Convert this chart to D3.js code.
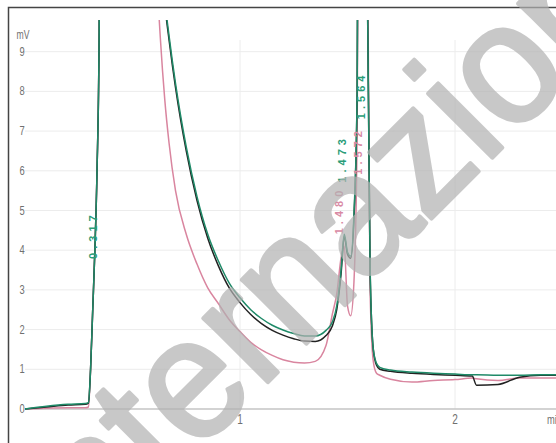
<!DOCTYPE html>
<html>
<head>
<meta charset="utf-8">
<script src="https://cdn.jsdelivr.net/npm/d3@7"></script>
<style>
  body { margin: 0; background: #fff; }
  svg { display: block; }
</style>
</head>
<body>
<div id="chart"></div>
<script>
// 1 - Données (temps en minutes, signal en mV)
const temps = [0, 0.1, 0.2, 0.28, 0.295, 0.305, 0.315, 0.325, 0.335, 0.345, 0.36, 0.4, 0.5, 0.6,
  0.63, 0.65, 0.67, 0.7, 0.75, 0.8, 0.85, 0.9, 0.95, 1.0, 1.05, 1.1, 1.15, 1.2, 1.25, 1.3, 1.35,
  1.4, 1.43, 1.45, 1.47, 1.485, 1.5, 1.515, 1.53, 1.545, 1.56, 1.575, 1.59, 1.605, 1.62, 1.635,
  1.65, 1.7, 1.8, 1.9, 2.0, 2.08, 2.1, 2.2, 2.3, 2.4, 2.5];

const signalNoir = [0, 0.05, 0.1, 0.12, 0.15, 1.0, 2.5, 4.0, 6.0, 9.5, 30, 60, 45, 15,
  11.5, 10.2, 9.3, 8.1, 6.5, 5.25, 4.3, 3.6, 3.05, 2.68, 2.38, 2.15, 1.98, 1.86, 1.77, 1.71, 1.7,
  1.85, 2.1, 2.5, 3.4, 4.35, 3.9, 3.8, 4.8, 8, 30, 35, 12, 3.5, 1.5, 1.1,
  1.0, 0.95, 0.9, 0.87, 0.85, 0.83, 0.6, 0.62, 0.8, 0.85, 0.85];

const signalVert = [0, 0.07, 0.12, 0.14, 0.16, 1.0, 2.5, 4.0, 6.0, 9.5, 30, 60, 45, 15,
  11.6, 10.3, 9.4, 8.2, 6.6, 5.35, 4.4, 3.72, 3.17, 2.8, 2.5, 2.28, 2.11, 1.99, 1.9, 1.84, 1.84,
  1.98, 2.2, 2.6, 3.5, 4.4, 3.95, 3.85, 4.9, 8, 30, 35, 12, 3.6, 1.5, 1.15,
  1.05, 0.98, 0.93, 0.9, 0.88, 0.86, 0.86, 0.85, 0.85, 0.86, 0.86];

const signalRose = [0, 0.02, 0.03, 0.03, 0.05, 1.0, 2.5, 4.0, 6.0, 9.5, 30, 60, 40, 12.5,
  9.3, 7.8, 6.7, 5.5, 4.4, 3.65, 3.05, 2.65, 2.25, 1.95, 1.68, 1.49, 1.35, 1.24, 1.18, 1.16, 1.2,
  1.6, 2.4, 2.9, 3.8, 4.1, 2.6, 2.35, 3.2, 7, 25, 40, 14, 3.0, 1.2, 0.9,
  0.85, 0.75, 0.68, 0.72, 0.74, 0.78, 0.76, 0.72, 0.78, 0.78, 0.78];

const graduationsY = [0, 1, 2, 3, 4, 5, 6, 7, 8, 9];
const graduationsX = [1, 2];

// Étiquettes des pics : temps de rétention, texte, couleur, hauteur de l'étiquette (mV)
const picsTemps = [0.317, 1.473, 1.462, 1.564, 1.55];
const picsTextes = ["0.317", "1.473", "1.480", "1.564", "1.572"];
const picsCouleurs = ["#2a9d78", "#2a9d78", "#d98aa4", "#2a9d78", "#d98aa4"];
const picsHauteurs = [4.38, 6.3, 5.0, 7.9, 6.5];

// 2 - Dimensions et échelles
const largeur = 556, hauteur = 443;

const x = d3.scaleLinear().domain([0, 2.5]).range([25, 562.5]);
const y = d3.scaleLinear().domain([0, 9]).range([409, 51.7]);

const svg = d3.select("#chart")
  .append("svg")
  .attr("width", largeur)
  .attr("height", hauteur)
  .style("font-family", "'Liberation Sans', Arial, sans-serif");

svg.append("clipPath").attr("id", "zone")
  .append("rect")
  .attr("x", 25).attr("y", 20)
  .attr("width", largeur - 25).attr("height", 400);

// Cadre
svg.append("path")
  .attr("d", `M8.5,${hauteur} V7.5 H${largeur}`)
  .attr("fill", "none")
  .attr("stroke", "#444")
  .attr("stroke-width", 1.5);

// 3 - Grille
svg.append("g")
  .selectAll("line")
  .data(graduationsY.slice(1))
  .join("line")
  .attr("x1", 25).attr("x2", largeur)
  .attr("y1", d => y(d)).attr("y2", d => y(d))
  .attr("stroke", "#ececec");

svg.append("g")
  .selectAll("line")
  .data(graduationsX)
  .join("line")
  .attr("x1", d => x(d)).attr("x2", d => x(d))
  .attr("y1", 40).attr("y2", y(0))
  .attr("stroke", "#ececec");

// Axe des temps
svg.append("line")
  .attr("x1", 25).attr("x2", largeur)
  .attr("y1", y(0)).attr("y2", y(0))
  .attr("stroke", "#c4c4c4")
  .attr("stroke-width", 1.5);

// Étiquettes axe Y (police étroite)
svg.append("g")
  .selectAll("text")
  .data(graduationsY)
  .join("text")
  .attr("transform", d => `translate(22,${y(d) + 4}) scale(0.72,1)`)
  .attr("text-anchor", "middle")
  .attr("font-size", 13)
  .attr("fill", "#707070")
  .text(d => d);

svg.append("text")
  .attr("transform", "translate(23,39) scale(0.72,1)")
  .attr("text-anchor", "middle")
  .attr("font-size", 12)
  .attr("fill", "#707070")
  .text("mV");

// Étiquettes axe X
svg.append("g")
  .selectAll("text")
  .data(graduationsX)
  .join("text")
  .attr("transform", d => `translate(${x(d)},${y(0) + 15}) scale(0.72,1)`)
  .attr("text-anchor", "middle")
  .attr("font-size", 14)
  .attr("fill", "#707070")
  .text(d => d);

svg.append("text")
  .attr("transform", `translate(${largeur - 9},${y(0) + 15}) scale(0.72,1)`)
  .attr("font-size", 13)
  .attr("fill", "#707070")
  .text("min");

// 4 - Tracés
const ligne = d3.line()
  .x((d, i) => x(temps[i]))
  .y(d => y(d))
  .curve(d3.curveMonotoneX);

const series = [
  { valeurs: signalRose, couleur: "#d9859f" },
  { valeurs: signalNoir, couleur: "#222222" },
  { valeurs: signalVert, couleur: "#1f8a68" }
];

svg.append("g")
  .attr("clip-path", "url(#zone)")
  .selectAll("path")
  .data(series)
  .join("path")
  .attr("d", d => ligne(d.valeurs))
  .attr("fill", "none")
  .attr("stroke", d => d.couleur)
  .attr("stroke-width", 1.5)
  .attr("stroke-linejoin", "round");

// Étiquettes des pics (verticales, espacées)
svg.append("g")
  .selectAll("text")
  .data(picsTemps)
  .join("text")
  .attr("transform", (d, i) => `translate(${x(d) + 4},${y(picsHauteurs[i])}) rotate(-90)`)
  .attr("text-anchor", "middle")
  .attr("font-size", 11)
  .attr("font-weight", "bold")
  .attr("letter-spacing", 4)
  .attr("fill", (d, i) => picsCouleurs[i])
  .text((d, i) => picsTextes[i]);

// 5 - Filigrane (semi-transparent, par-dessus le graphique)
svg.append("text")
  .attr("transform", "translate(67,583) rotate(-45) scale(0.95,1)")
  .attr("font-size", 172)
  .attr("fill", "#b2b2b2")
  .attr("stroke", "#b2b2b2")
  .attr("stroke-width", 4)
  .attr("stroke-linejoin", "round")
  .attr("opacity", 0.7)
  .text("Internazionale");
</script>
</body>
</html>
